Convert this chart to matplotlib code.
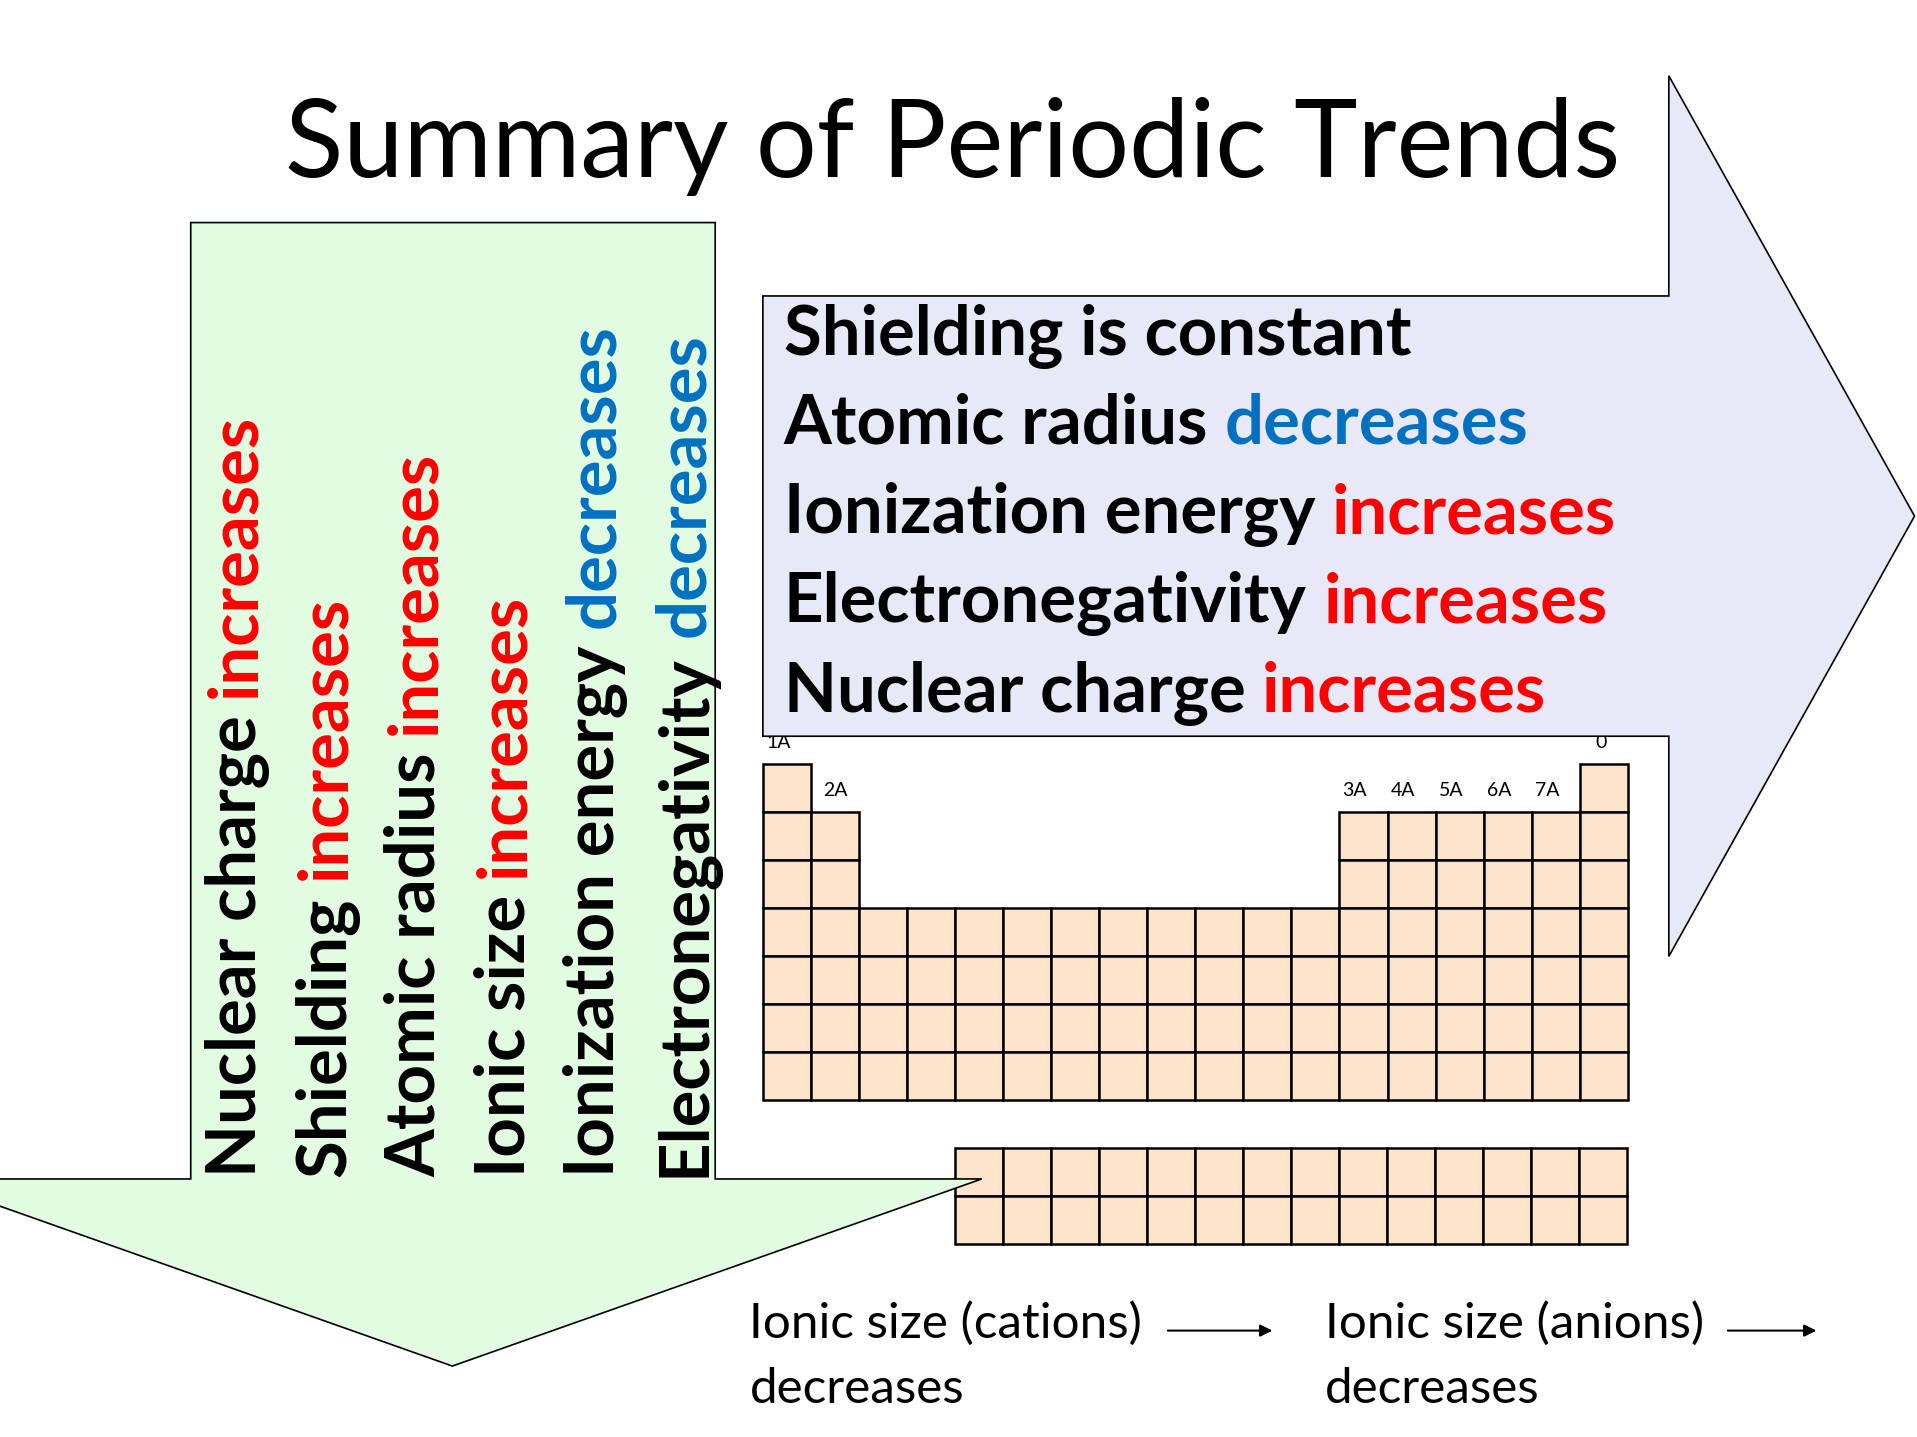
import matplotlib
matplotlib.use("Agg")
import matplotlib.pyplot as plt
from matplotlib.patches import Polygon, Rectangle

FONT = ["Lato", "DejaVu Sans"]
RED = "#FF0000"
BLUE = "#0070C0"

title = "Summary of Periodic Trends"

# columns filled in each period of the main table
period_cols = [
    [1, 18],
    [1, 2, 13, 14, 15, 16, 17, 18],
    [1, 2, 13, 14, 15, 16, 17, 18],
    list(range(1, 19)),
    list(range(1, 19)),
    list(range(1, 19)),
    list(range(1, 19)),
]
fblock_rows = 2
fblock_cols = 14

group_labels = ["1A", "2A", "3A", "4A", "5A", "6A", "7A", "0"]
group_cols = [1, 2, 13, 14, 15, 16, 17, 18]

across_lines = [
    ("Shielding is constant", "", "black"),
    ("Atomic radius", "decreases", BLUE),
    ("Ionization energy", "increases", RED),
    ("Electronegativity", "increases", RED),
    ("Nuclear charge", "increases", RED),
]
down_lines = [
    ("Nuclear charge", "increases", RED),
    ("Shielding", "increases", RED),
    ("Atomic radius", "increases", RED),
    ("Ionic size", "increases", RED),
    ("Ionization energy", "decreases", BLUE),
    ("Electronegativity", "decreases", BLUE),
]
ionic_notes = [("Ionic size (cations)", "decreases"), ("Ionic size (anions)", "decreases")]

# canvas in slide units
W, H = 1568, 1175
fig = plt.figure(figsize=(19.17, 14.37), dpi=100)
ax = fig.add_axes([0, 0, 1, 1])
ax.set_xlim(0, W)
ax.set_ylim(H, 0)
ax.axis("off")
renderer = fig.canvas.get_renderer()
PX = 1917 / W


def text_w(s, size, weight="normal"):
    t = ax.text(0, 0, s, fontsize=size, fontweight=weight, family=FONT)
    w = t.get_window_extent(renderer).width / PX
    t.remove()
    return w


def fit(s, target, weight="normal"):
    return 10 * target / text_w(s, 10, weight)


def two_part(x, y, first, second, color, size, vertical=False):
    kw = dict(fontsize=size, fontweight="bold", family=FONT, va="baseline", ha="left")
    if vertical:
        kw.update(rotation=90, rotation_mode="anchor")
    ax.text(x, y, first, color="black", zorder=5, **kw)
    if not second:
        return
    off = text_w(first + " " + second, size, "bold") - text_w(second, size, "bold")
    if vertical:
        ax.text(x, y - off, second, color=color, zorder=5, **kw)
    else:
        ax.text(x + off, y, second, color=color, zorder=5, **kw)


# right arrow
ax.add_patch(Polygon([(624, 242), (1365, 242), (1365, 62), (1566, 422), (1365, 782),
                      (1365, 602), (624, 602)], closed=True, facecolor="#E8E8F7",
                     edgecolor="black", lw=1.2, zorder=3))

# periodic table
x0, y0, cw, ch = 624, 625, 39.3, 39.2
for r, cols in enumerate(period_cols):
    for c in cols:
        ax.add_patch(Rectangle((x0 + (c - 1) * cw, y0 + r * ch), cw, ch,
                               facecolor="#FDE5CC", edgecolor="black", lw=1.8, zorder=2))
fx0, fy0 = 781, 939
for r in range(fblock_rows):
    for c in range(fblock_cols):
        ax.add_patch(Rectangle((fx0 + c * cw, fy0 + r * ch), cw, ch,
                               facecolor="#FDE5CC", edgecolor="black", lw=1.8, zorder=2))

lab_size = fit("3A", 20)
for lab, c in zip(group_labels, group_cols):
    cx = x0 + (c - 0.5) * cw
    if lab == "1A":
        ax.text(x0 + 3, 612, lab, fontsize=lab_size, family=FONT, ha="left", va="baseline", zorder=2)
    elif lab == "2A":
        ax.text(cx, 651, lab, fontsize=lab_size, family=FONT, ha="center", va="baseline", zorder=2)
    elif lab == "0":
        ax.text(cx - 2, 612, lab, fontsize=lab_size, family=FONT, ha="center", va="baseline", zorder=2)
    else:
        ax.text(cx - 7, 651, lab, fontsize=lab_size, family=FONT, ha="center", va="baseline", zorder=2)

# down arrow
ax.add_patch(Polygon([(156, 182), (585, 182), (585, 964), (803, 964), (370, 1117),
                      (-63, 964), (156, 964)], closed=True, facecolor="#E2FCE2",
                     edgecolor="black", lw=1.2, zorder=4))

# title
ax.text(233, 145, title, fontsize=fit(title, 1095), family=FONT, ha="left",
        va="baseline", zorder=5)

# text blocks
bold_size = fit("Nuclear charge increases", 627, "bold")
for i, (a, b, col) in enumerate(across_lines):
    two_part(641, 290 + i * 73, a, b, col, bold_size)
for i, (a, b, col) in enumerate(down_lines):
    two_part(209 + i * 73.4, 962, a, b, col, bold_size, vertical=True)

note_size = fit("Ionic size (cations)", 322)
for (a, b), nx, ax0, ax1 in zip(ionic_notes, [613, 1084], [953, 1411], [1043, 1488]):
    ax.text(nx, 1094, a, fontsize=note_size, family=FONT, ha="left", va="baseline")
    ax.text(nx, 1147, b, fontsize=note_size, family=FONT, ha="left", va="baseline")
    ax.annotate("", xy=(ax1, 1088), xytext=(ax0, 1088),
                arrowprops=dict(arrowstyle="-|>", color="black", lw=1.5, mutation_scale=18))

fig.savefig("out.png", dpi=100)
plt.close(fig)
